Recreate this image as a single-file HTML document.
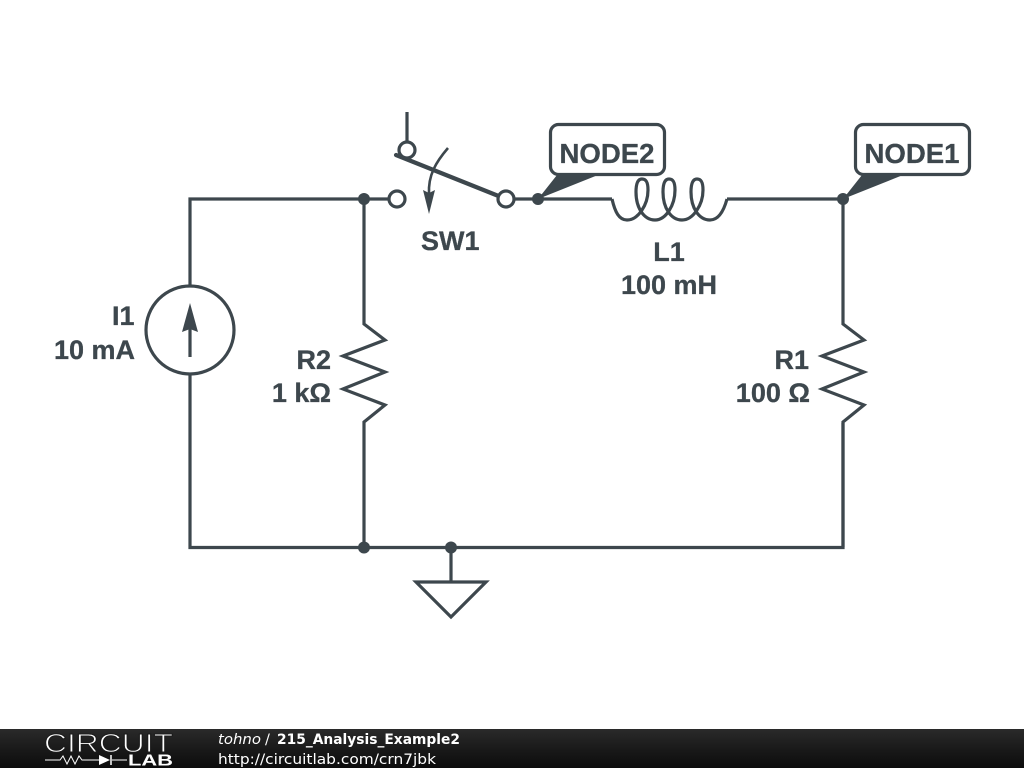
<!DOCTYPE html>
<html>
<head>
<meta charset="utf-8">
<style>
html,body{margin:0;padding:0;background:#fff;width:1024px;height:768px;overflow:hidden}
svg{display:block}
.t{font-family:"Liberation Sans",sans-serif;font-weight:bold;font-size:27px;fill:#3d474d;stroke:#3d474d;stroke-width:0.3}
.n{font-family:"Liberation Sans",sans-serif;font-weight:bold;font-size:27.5px;fill:#3d474d;stroke:#3d474d;stroke-width:0.3}
.f{font-family:"DejaVu Sans",sans-serif;font-size:14.5px;fill:#fff}
</style>
</head>
<body>
<svg width="1024" height="768" viewBox="0 0 1024 768" xmlns="http://www.w3.org/2000/svg">
<defs>
<linearGradient id="g" x1="0" y1="0" x2="0" y2="1">
<stop offset="0" stop-color="#2a2a2a"/><stop offset="0.5" stop-color="#1a1a1a"/><stop offset="1" stop-color="#0c0c0c"/>
</linearGradient>
</defs>
<rect width="1024" height="768" fill="#fff"/>
<g fill="none" stroke="#3d474d" stroke-width="3.2" stroke-linejoin="miter" stroke-linecap="butt">
<path d="M397,199H190V286M190,374V547.5H843V423"/>
<path d="M364,199V324L385,340L343,356L385,372L343,389L385,405L364,422V547"/>
<path d="M843,199V324L864,340L822,356L864,372L822,389L864,405L843,422V547"/>
<path d="M506,199H612"/>
<path d="M727,199H843"/>
<path d="M612,199C615,212 619,220 627,220C638,220 648,205 648,190C648,182 646,179 642,179C638,179 636,183 636,192C636,208 644,220 655,220C666,220 675,205 675,190C675,182 673,179 669,179C665,179 663,183 663,192C663,208 671,220 682,220C693,220 703,205 703,190C703,182 701,179 697,179C693,179 691,183 691,192C691,208 699,220 710,220C719,220 724,210 727,199"/>
<circle cx="190" cy="330" r="44"/>
<path d="M190,357V325"/>
<path d="M451,547V582"/>
<path d="M416,582H486L451,617Z"/>
<path d="M407,112V143"/>
<path d="M396,155L501,197" stroke-width="4.2" stroke-linecap="round"/>
<path d="M448,148C436,162 428,175 429,194" stroke-width="2.6"/>
<rect x="550.5" y="124.5" width="114" height="50" rx="8"/>
<rect x="855.5" y="124.5" width="114" height="50" rx="8"/>
</g>
<g fill="#3d474d">
<path d="M190,303L198,332L190,329L182,332Z"/>
<path d="M429,214L423,190L429,193L435,190Z"/>
<path d="M538,199L557,175H598Z"/>
<path d="M843,199L862,175H903Z"/>
<circle cx="364" cy="199" r="6"/>
<circle cx="538" cy="199" r="6"/>
<circle cx="843" cy="199" r="6"/>
<circle cx="364" cy="547.5" r="6"/>
<circle cx="451" cy="547.5" r="6"/>
</g>
<g fill="#fff" stroke="#3d474d" stroke-width="3.2">
<circle cx="407" cy="150" r="8"/>
<circle cx="397" cy="199" r="8"/>
<circle cx="506" cy="199" r="8"/>
</g>
<text class="n" x="559.5" y="163" textLength="95" lengthAdjust="spacingAndGlyphs">NODE2</text>
<text class="n" x="864.5" y="163" textLength="95" lengthAdjust="spacingAndGlyphs">NODE1</text>
<text class="t" x="421" y="250">SW1</text>
<text class="t" x="669" y="261" text-anchor="middle">L1</text>
<text class="t" x="669" y="294" text-anchor="middle">100 mH</text>
<text class="t" x="134.5" y="325" text-anchor="end">I1</text>
<text class="t" x="135" y="359" text-anchor="end">10 mA</text>
<text class="t" x="331" y="369" text-anchor="end">R2</text>
<text class="t" x="331" y="402" text-anchor="end">1 kΩ</text>
<text class="t" x="809" y="369" text-anchor="end">R1</text>
<text class="t" x="810" y="402" text-anchor="end">100 Ω</text>
<rect x="0" y="729" width="1024" height="39" fill="url(#g)"/>
<text x="44" y="752" font-family="'Liberation Sans',sans-serif" font-size="26" fill="#fff" stroke="#1c1c1c" stroke-width="1" textLength="129" lengthAdjust="spacingAndGlyphs">CIRCUIT</text>
<path d="M45,760H60L63,756L67,764L71,756L75,764L79,756L82,760H99M112,760H127" fill="none" stroke="#fff" stroke-width="1"/>
<path d="M99,755V765L110,760Z" fill="#fff"/>
<path d="M111,755V765" stroke="#fff" stroke-width="1.5"/>
<text x="128" y="765.5" font-family="'Liberation Sans',sans-serif" font-weight="bold" font-size="15.5" fill="#fff" textLength="45" lengthAdjust="spacingAndGlyphs">LAB</text>
<text class="f" x="218" y="744" font-style="italic" textLength="43" lengthAdjust="spacingAndGlyphs">tohno</text>
<text class="f" x="265" y="744">/</text>
<text class="f" x="277" y="744" font-weight="bold" textLength="183" lengthAdjust="spacingAndGlyphs">215_Analysis_Example2</text>
<text class="f" x="218" y="764" textLength="218" lengthAdjust="spacingAndGlyphs">http://circuitlab.com/crn7jbk</text>
</svg>
</body>
</html>
